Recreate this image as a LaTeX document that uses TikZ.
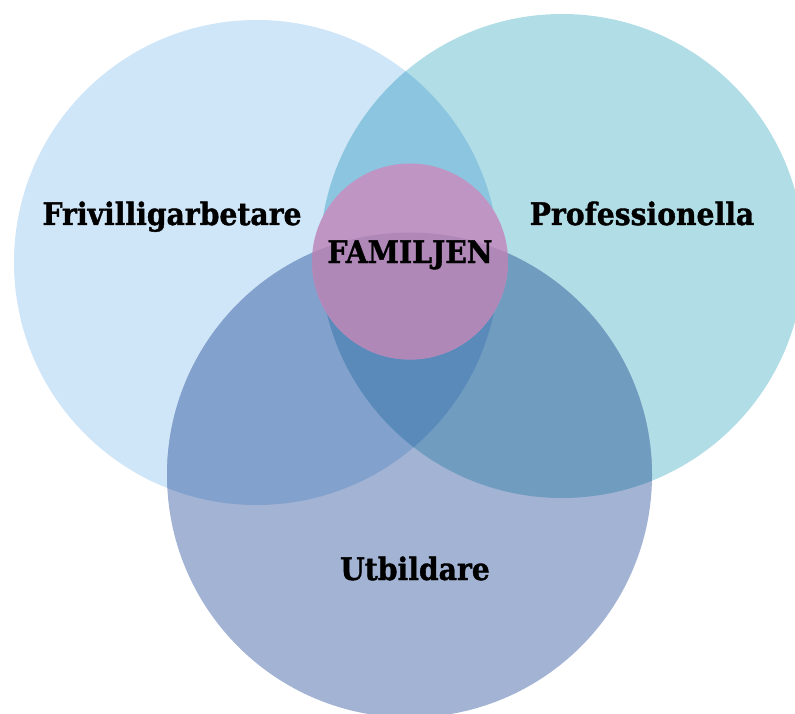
\documentclass[tikz,border=0pt]{standalone}
\usepackage{fontspec}
\setmainfont{DejaVu Serif}[BoldFeatures={FakeBold=1.3}]
\definecolor{cL}{HTML}{CFE5F8}
\definecolor{cR}{HTML}{B0DDE6}
\definecolor{cB}{HTML}{A2B3D4}
\definecolor{cLR}{HTML}{8CC5E0}
\definecolor{cLB}{HTML}{82A2CD}
\definecolor{cRB}{HTML}{709CBF}
\definecolor{cLRB}{HTML}{5A8ABA}
\definecolor{cP}{HTML}{BF95C3}
\definecolor{cPB}{HTML}{B088B8}
\tikzset{
  lbl/.style={font=\fontsize{31}{31}\selectfont\bfseries, inner sep=0pt, anchor=base, text=black, xscale=0.91},
}
\begin{document}
\begin{tikzpicture}[x=1pt,y=-1pt]
\useasboundingbox (0,0) rectangle (795,714);
\def\CL{(256.5,262.5) circle [radius=242.5pt]}
\def\CR{(562,256) circle [radius=242pt]}
\def\CB{(409.5,475) circle [radius=242.5pt]}
\def\CP{(410,261.5) circle [radius=98pt]}
\fill[cL] \CL;
\fill[cR] \CR;
\fill[cB] \CB;
\begin{scope}\clip \CL; \fill[cLR] \CR; \end{scope}
\begin{scope}\clip \CL; \fill[cLB] \CB; \end{scope}
\begin{scope}\clip \CR; \fill[cRB] \CB; \end{scope}
\begin{scope}\clip \CL; \clip \CR; \fill[cLRB] \CB; \end{scope}
\fill[cP] \CP;
\begin{scope}\clip \CB; \fill[cPB] \CP; \end{scope}
\node[lbl] (frivillig) at (172,225) {Frivilligarbetare};
\node[lbl] (prof) at (642,225) {Professionella};
\node[lbl] (familjen) at (410,263) {FAMILJEN};
\node[lbl] (utbildare) at (415,580) {Utbildare};
\end{tikzpicture}
\end{document}
